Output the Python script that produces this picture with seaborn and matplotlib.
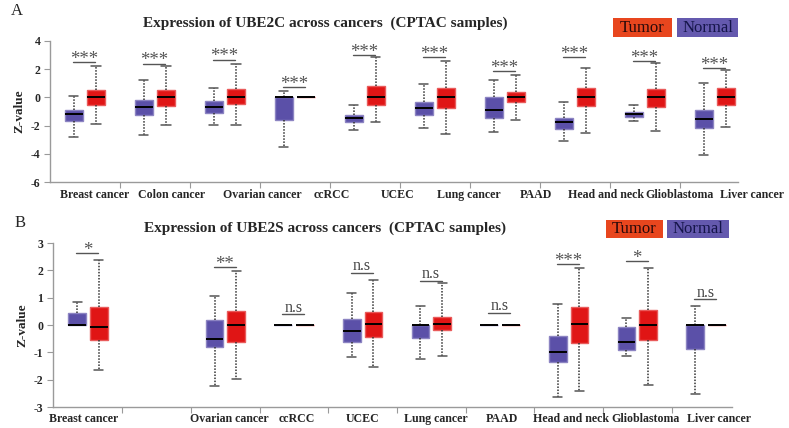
import numpy as np
import pandas as pd
import matplotlib
matplotlib.use("Agg")
import matplotlib.pyplot as plt
import matplotlib.colors as mcolors
from matplotlib.patches import Rectangle, PathPatch
import seaborn as sns

# ---------------- data ----------------
categories = ["Breast cancer", "Colon cancer", "Ovarian cancer", "ccRCC", "UCEC",
              "Lung cancer", "PAAD", "Head and neck", "Glioblastoma", "Liver cancer"]
groups = ["Normal", "Tumor"]

# Panel A: UBE2C, each box = [whisker low, Q1, median, Q3, whisker high]
ube2c_normal = [
    [-2.80, -1.70, -1.15, -0.87, 0.12],
    [-2.66, -1.22, -0.68, -0.16, 1.25],
    [-1.95, -1.10, -0.68, -0.28, 0.64],
    [-3.53, -1.62, 0.00, 0.02, 0.47],
    [-2.31, -1.76, -1.46, -1.27, -0.54],
    [-2.16, -1.22, -0.75, -0.31, 0.92],
    [-2.47, -1.46, -0.87, 0.00, 1.25],
    [-3.10, -2.21, -1.76, -1.46, -0.35],
    [-1.65, -1.39, -1.20, -1.04, -0.54],
    [-4.09, -2.16, -1.50, -0.87, 1.01],
]
ube2c_tumor = [
    [-1.88, -0.54, 0.00, 0.54, 2.19],
    [-1.98, -0.59, 0.00, 0.49, 2.19],
    [-1.98, -0.45, 0.05, 0.59, 2.38],
    [0.00, 0.00, 0.00, 0.00, 0.00],
    [-1.74, -0.54, 0.00, 0.82, 2.82],
    [-2.59, -0.75, 0.00, 0.66, 2.54],
    [-1.62, -0.35, 0.00, 0.38, 1.58],
    [-2.52, -0.64, 0.00, 0.66, 2.07],
    [-2.40, -0.71, 0.00, 0.59, 2.42],
    [-2.12, -0.54, 0.00, 0.64, 1.90],
]
ube2c_sig = ["***"] * 10
ube2c_sig_y = [2.47, 2.38, 2.66, 0.70, 2.99, 2.82, 1.84, 2.82, 2.54, 2.07]

# Panel B: UBE2S (no Colon cancer data)
ube2s_normal = [
    [0.00, 0.00, 0.00, 0.43, 0.83],
    None,
    [-2.23, -0.80, -0.51, 0.18, 1.06],
    [0.00, 0.00, 0.00, 0.00, 0.00],
    [-1.16, -0.64, -0.21, 0.21, 1.16],
    [-1.24, -0.47, 0.00, 0.00, 0.70],
    [0.00, 0.00, 0.00, 0.00, 0.00],
    [-2.63, -1.37, -0.97, -0.40, 0.76],
    [-1.13, -0.92, -0.64, -0.09, 0.24],
    [-2.53, -0.88, 0.00, 0.00, 0.70],
]
ube2s_tumor = [
    [-1.63, -0.55, -0.09, 0.65, 2.39],
    None,
    [-1.96, -0.62, 0.00, 0.53, 1.96],
    [0.00, 0.00, 0.00, 0.00, 0.00],
    [-1.55, -0.45, 0.04, 0.47, 1.65],
    [-1.14, -0.18, 0.02, 0.28, 1.53],
    [0.00, 0.00, 0.00, 0.00, 0.00],
    [-2.41, -0.67, 0.02, 0.67, 2.10],
    [-2.19, -0.55, 0.00, 0.55, 2.08],
    [0.00, 0.00, 0.00, 0.00, 0.00],
]
ube2s_sig = ["*", None, "**", "n.s", "n.s", "n.s", "n.s", "***", "*", "n.s"]
ube2s_sig_y = [2.63, None, 2.12, 0.39, 1.90, 1.62, 0.45, 2.23, 2.33, 0.94]
ube2s_labels = ["Breast cancer", "", "Ovarian cancer", "ccRCC", "UCEC",
                "Lung cancer", "PAAD", "Head and neck", "Glioblastoma", "Liver cancer"]

# ---------------- style ----------------
SERIF = ["Liberation Serif", "DejaVu Serif"]
sns.set_style("white")
plt.rcParams["font.family"] = SERIF
normal_col = "#5B50A8"
tumor_col = "#E01515"
legend_tumor = "#E8461E"
legend_normal = "#6459AE"
axis_col = "#9a9a9a"

W, H = 789, 428
fig = plt.figure(figsize=(W / 100, H / 100), dpi=100)


def px_rect(x0, y0, x1, y1):
    return [x0 / W, 1 - y1 / H, (x1 - x0) / W, (y1 - y0) / H]


def to_frame(normal, tumor):
    rows = []
    for cat, n, t in zip(categories, normal, tumor):
        for grp, vals in (("Normal", n), ("Tumor", t)):
            if vals is None:
                continue
            for v in vals:
                rows.append({"cancer": cat, "group": grp, "z": v})
    return pd.DataFrame(rows)


def lighten(c, f):
    r, g, b, _ = mcolors.to_rgba(c)
    return (r + (1 - r) * f, g + (1 - g) * f, b + (1 - b) * f)


def draw_panel(rect, normal, tumor, ylim, yticks, xlim, sig, sig_y, labels, label_off,
               title, title_y, letter, letter_xy, leg):
    ax = fig.add_axes(rect)
    df = to_frame(normal, tumor)
    sns.boxplot(data=df, x="cancer", y="z", hue="group", order=categories,
                hue_order=groups, palette=[normal_col, tumor_col], whis=(0, 100),
                width=0.63, gap=0.18, linewidth=1.0, showfliers=False, legend=False,
                saturation=1, ax=ax,
                whiskerprops=dict(linestyle=(0, (1, 1)), color="#333333", linewidth=1.1),
                capprops=dict(color="#555555", linewidth=1.1),
                medianprops=dict(color="black", linewidth=1.4))
    for p in ax.patches:
        if isinstance(p, PathPatch):
            fc = p.get_facecolor()
            p.set_edgecolor(lighten(fc, 0.3))
    ax.set_xlim(*xlim)
    ax.set_ylim(*ylim)
    ax.set_yticks(yticks)
    ax.set_yticklabels([str(t) for t in yticks], fontweight="bold", fontsize=8.5)
    ax.set_xticks(np.arange(len(categories) - 1) + 0.5)
    ax.set_xticklabels([])
    ax.tick_params(axis="both", direction="out", length=4, width=0.8, color=axis_col,
                   left=True, bottom=True, pad=3)
    for s in ["top", "right"]:
        ax.spines[s].set_visible(False)
    for s in ["left", "bottom"]:
        ax.spines[s].set_color(axis_col)
        ax.spines[s].set_linewidth(1.0)
    ax.set_xlabel("")
    ax.set_ylabel("Z-value", fontweight="bold", fontsize=9.5, labelpad=4)
    for i, lab in enumerate(labels):
        if lab:
            ax.annotate(lab, xy=(i + label_off[i], 0), xycoords=("data", "axes fraction"),
                        xytext=(0, -4.5), textcoords="offset points", ha="center", va="top",
                        fontweight="bold", fontsize=8.6)
    for i, (s, y) in enumerate(zip(sig, sig_y)):
        if s is None:
            continue
        ax.plot([i - 0.17, i + 0.15], [y, y], color="#555555", lw=1.0)
        if s.startswith("*"):
            ax.annotate(s, xy=(i - 0.01, y), xytext=(0, -1.2), textcoords="offset points",
                        ha="center", va="baseline", fontsize=13.5, color="#555555")
        else:
            ax.annotate(s, xy=(i - 0.01, y), xytext=(0, 2), textcoords="offset points",
                        ha="center", va="baseline", fontsize=11.5, color="#444444")
    fig.text(325 / W, 1 - title_y / H, title, ha="center", va="center",
             fontweight="bold", fontsize=11)
    fig.text(letter_xy[0] / W, 1 - letter_xy[1] / H, letter, ha="left", va="top", fontsize=12)
    (tx0, tx1, nx0, nx1, ly0, ly1) = leg
    for (x0, x1, col, txt, tcol) in ((tx0, tx1, legend_tumor, "Tumor", "#2a0a0a"),
                                      (nx0, nx1, legend_normal, "Normal", "#15154a")):
        fig.add_artist(Rectangle((x0 / W, 1 - ly1 / H), (x1 - x0) / W, (ly1 - ly0) / H,
                                 transform=fig.transFigure, facecolor=col, edgecolor="none"))
        fig.text((x0 + x1) / 2 / W, 1 - (ly0 + ly1) / 2 / H, txt, ha="center", va="center",
                 fontsize=12, color=tcol)
    return ax


draw_panel(px_rect(50, 40.7, 738, 182.3), ube2c_normal, ube2c_tumor, (-6, 4),
           [-6, -4, -2, 0, 2, 4], (-0.5, 9.33), ube2c_sig, ube2c_sig_y, categories,
           [0.14, 0.23, 0.54, 0.53, 0.46, 0.49, 0.44, 0.44, 0.50, 0.53],
           "Expression of UBE2C across cancers  (CPTAC samples)", 23, "A", (11, 3),
           (613, 672, 677, 738, 18, 37))

draw_panel(px_rect(53, 243, 732, 407), ube2s_normal, ube2s_tumor, (-3, 3),
           [-3, -2, -1, 0, 1, 2, 3], (-0.51, 9.38), ube2s_sig, ube2s_sig_y, ube2s_labels,
           [-0.07, 0, 0.06, 0.04, 0, 0.06, 0.03, 0.03, 0.12, 0.19],
           "Expression of UBE2S across cancers  (CPTAC samples)", 228, "B", (15, 215),
           (606, 663, 667, 729, 220, 238))

fig.savefig("out.png", dpi=100)
